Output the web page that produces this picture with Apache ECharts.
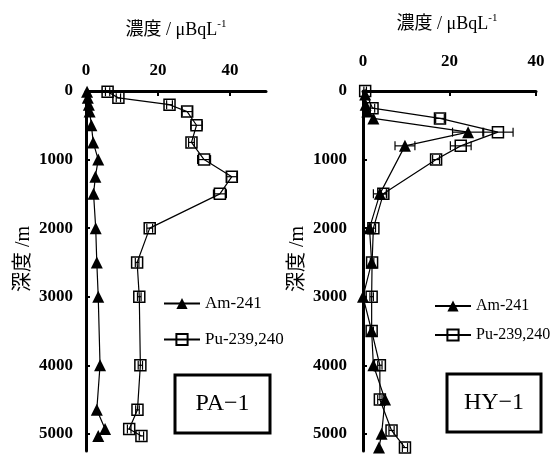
<!DOCTYPE html>
<html><head><meta charset="utf-8">
<script src="https://cdn.jsdelivr.net/npm/echarts@6/dist/echarts.min.js"></script>
<style>html,body{margin:0;padding:0;background:#fff}#c{width:554px;height:466px}</style>
</head><body><div id="c"></div>
<script>
// PA-1
const paDepth = [10, 100, 200, 300, 500, 750, 1000, 1250, 1500, 2000, 2500, 3000, 4000, 4650, 4930, 5030];
const paPu    = [6.0, 9.0, 23.2, 28.1, 30.7, 29.3, 32.8, 40.5, 37.2, 17.7, 14.2, 14.8, 15.1, 14.3, 12.0, 15.4];
const paPuErr = [0.6, 0.6, 0.8, 1.4, 1.6, 0.8, 1.8, 1.4, 1.8, 0.8, 0.5, 0.5, 0.6, 0.5, 0.5, 0.6];
const paAm    = [0.3, 0.5, 0.8, 1.0, 1.5, 2.0, 3.4, 2.6, 2.1, 2.7, 3.0, 3.4, 3.9, 3.0, 5.3, 3.4];
// HY-1
const hyPuDepth = [0, 250, 400, 600, 800, 1000, 1500, 2000, 2500, 3000, 3500, 4000, 4500, 4950, 5200];
const hyPu      = [0.5, 2.2, 17.8, 31.2, 22.6, 16.9, 4.7, 2.4, 2.1, 2.0, 2.0, 3.9, 3.9, 6.6, 9.7];
const hyPuErr   = [0.3, 0.5, 1.0, 3.5, 2.4, 0.8, 0.8, 0.5, 0.4, 0.4, 0.4, 0.5, 0.5, 0.6, 0.6];
const hyAmDepth = [50, 200, 300, 400, 600, 800, 1500, 2000, 2500, 3000, 3500, 4000, 4500, 5000, 5200];
const hyAm      = [0.5, 0.6, 1.0, 2.4, 24.3, 9.7, 3.9, 1.5, 2.0, 0.0, 2.0, 2.4, 5.1, 4.3, 3.7];
const hyAmErr   = [0.0, 0.0, 0.0, 0.0, 3.6, 2.3, 1.5, 0.0, 0.0, 0.0, 0.0, 0.0, 0.0, 0.0, 0.0];
// axes
const paXTicks = [0, 20, 40];
const hyXTicks = [0, 20, 40];
const depthTicks = [0, 1000, 2000, 3000, 4000, 5000];

const SERIF = '"Liberation Serif", "Noto Sans CJK JP", serif';
const pairs = (xs, ds) => xs.map((v, i) => [v, ds[i]]);
const triples = (xs, ds, es) => xs.map((v, i) => [v, ds[i], es[i]]);

function errRender(params, api) {
  const x = api.value(0), d = api.value(1), e = api.value(2);
  if (!e) return null;
  const p1 = api.coord([x - e, d]), p2 = api.coord([x + e, d]);
  const h = 4.5;
  const style = { stroke: '#000', lineWidth: 1.2 };
  return { type: 'group', children: [
    { type: 'line', shape: { x1: p1[0], y1: p1[1], x2: p2[0], y2: p2[1] }, style },
    { type: 'line', shape: { x1: p1[0], y1: p1[1] - h, x2: p1[0], y2: p1[1] + h }, style },
    { type: 'line', shape: { x1: p2[0], y1: p2[1] - h, x2: p2[0], y2: p2[1] + h }, style }
  ]};
}

const plain = (v) => String(v);

function xAxisCfg(gi, max, ticks, margin) {
  return {
    gridIndex: gi, type: 'value', position: 'top', min: 0, max: max, interval: 20,
    axisLine: { show: true, onZero: false, lineStyle: { color: '#000', width: 3 } },
    axisTick: { show: true, inside: true, length: 5, customValues: ticks, lineStyle: { color: '#000', width: 2 } },
    axisLabel: { customValues: ticks, formatter: plain, margin: margin, color: '#000', fontFamily: SERIF, fontWeight: 'bold', fontSize: 17 },
    splitLine: { show: false }
  };
}
function yAxisCfg(gi, margin) {
  return {
    gridIndex: gi, type: 'value', inverse: true, min: 0, max: 5250, interval: 1000,
    axisLine: { show: true, onZero: false, lineStyle: { color: '#000', width: 3 } },
    axisTick: { show: true, inside: true, length: 4, customValues: depthTicks, lineStyle: { color: '#000', width: 2 } },
    axisLabel: { customValues: depthTicks, formatter: plain, margin: margin, color: '#000', fontFamily: SERIF, fontWeight: 'bold', fontSize: 17 },
    splitLine: { show: false }
  };
}

const amStyle = (xi) => ({
  type: 'line', name: 'Am-241', xAxisIndex: xi, yAxisIndex: xi,
  symbol: 'triangle', symbolSize: 12, z: 3,
  itemStyle: { color: '#000' }, lineStyle: { color: '#000', width: 1.2 }
});
const puStyle = (xi) => ({
  type: 'line', name: 'Pu-239,240', xAxisIndex: xi, yAxisIndex: xi,
  symbol: 'rect', symbolSize: 11, z: 4,
  itemStyle: { color: 'rgba(255,255,255,0)', borderColor: '#000', borderWidth: 1.5 },
  lineStyle: { color: '#000', width: 1.2 }
});
const errSeries = (xi, data) => ({
  type: 'custom', xAxisIndex: xi, yAxisIndex: xi, renderItem: errRender, data: data, z: 2, silent: true
});

const legendCfg = (left, top, gap, size) => ({
  data: ['Am-241', 'Pu-239,240'], orient: 'vertical', left: left, top: top,
  itemWidth: 36, itemHeight: 14, itemGap: gap, selectedMode: false,
  textStyle: { fontFamily: SERIF, fontSize: size, color: '#000' }
});

const titleText = (x, y) => ({
  type: 'text', x: x, y: y,
  style: {
    text: '{a|濃度 / μBqL}{s|-1}', align: 'center', verticalAlign: 'middle',
    rich: {
      a: { fontFamily: SERIF, fontSize: 18, color: '#000', lineHeight: 22 },
      s: { fontFamily: SERIF, fontSize: 11, color: '#000', verticalAlign: 'top', lineHeight: 22 }
    }
  }
});
const yName = (x, y) => ({
  type: 'text', x: x, y: y, rotation: Math.PI / 2,
  style: { text: '深度 /m', align: 'center', verticalAlign: 'middle', fontFamily: SERIF, fontSize: 20, fill: '#000' }
});
const box = (x, y, w, h, label) => ({
  type: 'group', children: [
    { type: 'rect', shape: { x: x, y: y, width: w, height: h }, style: { fill: '#fff', stroke: '#000', lineWidth: 3 } },
    { type: 'text', x: x + w / 2, y: y + h / 2, style: { text: label, align: 'center', verticalAlign: 'middle', fontFamily: SERIF, fontSize: 24, fill: '#000' } }
  ]
});

const chart = echarts.init(document.getElementById('c'), null, { renderer: 'canvas' });
chart.setOption({
  animation: false,
  backgroundColor: '#fff',
  grid: [
    { left: 86, top: 91, width: 180, height: 360 },
    { left: 363, top: 91, width: 173, height: 360 }
  ],
  xAxis: [xAxisCfg(0, 50, paXTicks, 12), xAxisCfg(1, 40, hyXTicks, 21)],
  yAxis: [yAxisCfg(0, 13), yAxisCfg(1, 16)],
  legend: [legendCfg(158, 290, 19, 17), legendCfg(429, 293, 13, 16)],
  series: [
    errSeries(0, triples(paPu, paDepth, paPuErr)),
    Object.assign(amStyle(0), { data: pairs(paAm, paDepth) }),
    Object.assign(puStyle(0), { data: pairs(paPu, paDepth) }),
    errSeries(1, triples(hyPu, hyPuDepth, hyPuErr)),
    errSeries(1, triples(hyAm, hyAmDepth, hyAmErr)),
    Object.assign(amStyle(1), { data: pairs(hyAm, hyAmDepth) }),
    Object.assign(puStyle(1), { data: pairs(hyPu, hyPuDepth) })
  ],
  graphic: [
    titleText(176, 30), titleText(447, 24),
    yName(24, 259), yName(298, 259),
    box(175, 375, 95, 58, 'PA−1'), box(447, 374, 94, 58, 'HY−1')
  ]
});
</script></body></html>
